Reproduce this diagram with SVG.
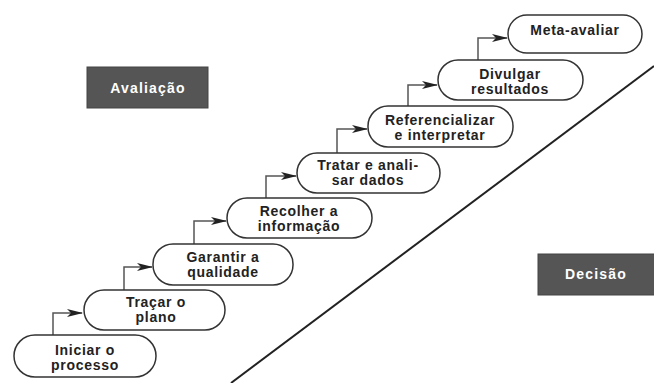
<svg xmlns="http://www.w3.org/2000/svg" width="654" height="383" viewBox="0 0 654 383">
<defs>
<marker id="ah" viewBox="0 0 16 8" markerWidth="16" markerHeight="8" refX="15" refY="4" orient="auto" markerUnits="userSpaceOnUse">
<path d="M0,0 L16,4 L0,8 L4,4 Z" fill="#222"/>
</marker>
</defs>
<style>
.n rect{fill:#fff;stroke:#333;stroke-width:1.5}
.n text{font-family:"Liberation Sans",Arial,sans-serif;font-weight:bold;font-size:14px;letter-spacing:0.7px;fill:#222;text-anchor:middle}
.c path{fill:none;stroke:#555;stroke-width:1.5}
.lbl rect{fill:#555;stroke:#444;stroke-width:1}
.lbl text{font-family:"Liberation Sans",Arial,sans-serif;font-weight:bold;font-size:14px;letter-spacing:1.2px;fill:#fff;text-anchor:middle}
</style>
<rect width="654" height="383" fill="#fff"/>
<path d="M231,383 L654,66" stroke="#222" stroke-width="2" fill="none"/>
<g id="avaliacao" class="lbl"><rect x="87" y="67" width="121" height="41"/><text x="148" y="93">Avaliação</text></g>
<g id="decisao" class="lbl"><rect x="538" y="254" width="118" height="41"/><text x="596" y="279">Decisão</text></g>
<g id="connectors" class="c">
<path d="M53,335 V313 H82" marker-end="url(#ah)"/>
<path d="M124,290 V267 H152" marker-end="url(#ah)"/>
<path d="M194,244 V221 H226" marker-end="url(#ah)"/>
<path d="M266,198 V176 H296" marker-end="url(#ah)"/>
<path d="M337,153 V129 H367" marker-end="url(#ah)"/>
<path d="M408,106 V85 H437" marker-end="url(#ah)"/>
<path d="M478,60 V38 H507" marker-end="url(#ah)"/>
</g>
<g id="n1" class="n"><rect x="14" y="335" width="142" height="42" rx="21"/><text x="85" y="355">Iniciar o</text><text x="85" y="370">processo</text></g>
<g id="n2" class="n"><rect x="84" y="290" width="141" height="40" rx="20"/><text x="156" y="307">Traçar o</text><text x="156" y="322">plano</text></g>
<g id="n3" class="n"><rect x="153" y="244" width="140" height="41" rx="20"/><text x="223" y="262">Garantir a</text><text x="223" y="277">qualidade</text></g>
<g id="n4" class="n"><rect x="227" y="198" width="145" height="40" rx="20"/><text x="299" y="216">Recolher a</text><text x="299" y="231">informação</text></g>
<g id="n5" class="n"><rect x="297" y="153" width="143" height="40" rx="20"/><text x="368" y="170">Tratar e anali-</text><text x="368" y="185">sar dados</text></g>
<g id="n6" class="n"><rect x="368" y="106" width="145" height="41" rx="20"/><text x="440" y="125">Referencializar</text><text x="440" y="140">e interpretar</text></g>
<g id="n7" class="n"><rect x="438" y="60" width="145" height="40" rx="20"/><text x="510" y="79">Divulgar</text><text x="510" y="94">resultados</text></g>
<g id="n8" class="n"><rect x="508" y="15" width="134" height="38" rx="19"/><text x="575" y="35">Meta-avaliar</text></g>
</svg>
